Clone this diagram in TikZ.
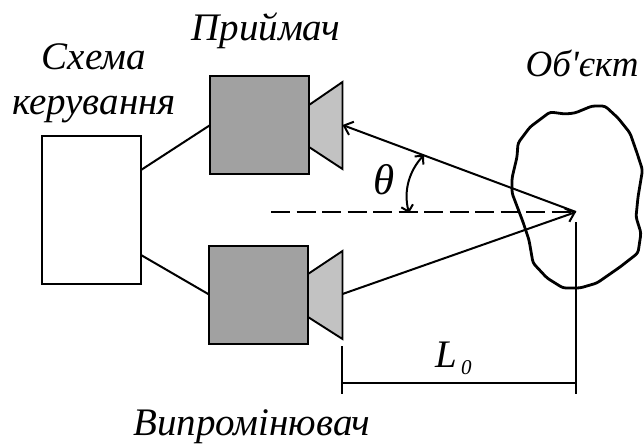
\documentclass[tikz,border=0pt]{standalone}
\usepackage{fontspec}
\setmainfont{Liberation Serif}
\newfontfamily\objfont{Liberation Serif}
\usetikzlibrary{arrows.meta}
\definecolor{bodygray}{gray}{0.63}
\definecolor{horngray}{gray}{0.76}
\tikzset{
  x=1pt,y=-1pt,
  line/.style={draw=black,line width=2pt},
  blockbox/.style={draw=black,line width=2pt,fill=bodygray,minimum width=98.5pt,minimum height=98pt,inner sep=0pt,outer sep=0pt},
  ctrlbox/.style={draw=black,line width=1.5pt,fill=white,minimum width=99pt,minimum height=148pt,inner sep=0pt,outer sep=0pt},
  horn/.style={draw=black,line width=1.9pt,fill=horngray,line join=miter},
  lbl/.style={font=\fontsize{39}{45}\selectfont\itshape,inner sep=0pt,align=center},
  opentip/.style={-{Straight Barb[length=8pt,width=14pt,line width=2pt]}},
  bothtip/.style={{Straight Barb[length=6pt,width=12pt,line width=2pt]}-{Straight Barb[length=6pt,width=12pt,line width=2pt]}}
}
\begin{document}
\begin{tikzpicture}
\useasboundingbox (0,0) rectangle (644,445);
\node[ctrlbox] (ctrl) at (91.5,210) {};
\node[blockbox] (rx) at (259.5,125) {};
\node[blockbox] (tx) at (258.3,294.5) {};
\draw[horn] (309,105) -- (342.5,82) -- (342.5,169) -- (309,147) -- cycle;
\draw[horn] (308,274) -- (342.5,251) -- (342.5,339) -- (308,317) -- cycle;
\coordinate (c1) at (ctrl.east |- 0,170);
\coordinate (c2) at (ctrl.east |- 0,255);
\coordinate (r1) at (rx.west);
\coordinate (t1) at (tx.west);
\draw[line] (c1) -- (r1);
\draw[line] (c2) -- (t1);
\coordinate (focus) at (576,212);
\coordinate (rxfront) at (342.5,125);
\coordinate (txfront) at (342.5,294);
\coordinate (dashstart) at (271,212);
\draw[line,opentip] (focus) -- (rxfront);
\draw[line,opentip] (txfront) -- (focus);
\draw[line,dash pattern=on 19pt off 6.5pt] (dashstart) -- (focus);
\draw[line width=2.8pt,line join=round,rounded corners=3pt]
 (550,112)--(565,114)--(575,113)--(592,106)--(605,106)--(618,118)--(630,133)--(637,153)--(642.5,170)--(638,197)--(636,217)--(641,233)--(638,253)--(620,267)--(597,283)--(580,288)--(563,288)--(547,278)--(533,263)--(529,240)--(523,222)--(512,193)--(512,178)--(517,157)--(518,143)--(530,127)--cycle;
\coordinate (arcA) at (424,155);
\coordinate (arcB) at (409,213);
\draw[line,bothtip] (arcA) .. controls (410,170) and (403,190) .. (arcB);
\coordinate (dimA) at (342,346);
\coordinate (dimAb) at (342,394);
\coordinate (dimB) at (576,222);
\coordinate (dimBb) at (576,394);
\draw[line] (dimA) -- (dimAb);
\draw[line] (dimB) -- (dimBb);
\draw[line] (342,382.5) -- (576,382.5);
\node[lbl,font=\fontsize{43}{45}\selectfont\itshape] (ltheta) at (384,180) {θ};
\node[lbl,anchor=base west] (ll) at (435,367) {L};
\node[font=\fontsize{21}{23}\selectfont\itshape,inner sep=0pt,anchor=base west] (lz) at (461,374) {0};
\node[lbl] (lrx) at (266,31) {Приймач};
\node[lbl] (ltx) at (252,427) {Випромінювач};
\node[lbl,font=\fontsize{37}{45}\objfont\itshape] (lobj) at (582,63) {Об'єкт};
\node[lbl] (lctrl) at (94,83) {Схема\\керування};
\end{tikzpicture}
\end{document}
